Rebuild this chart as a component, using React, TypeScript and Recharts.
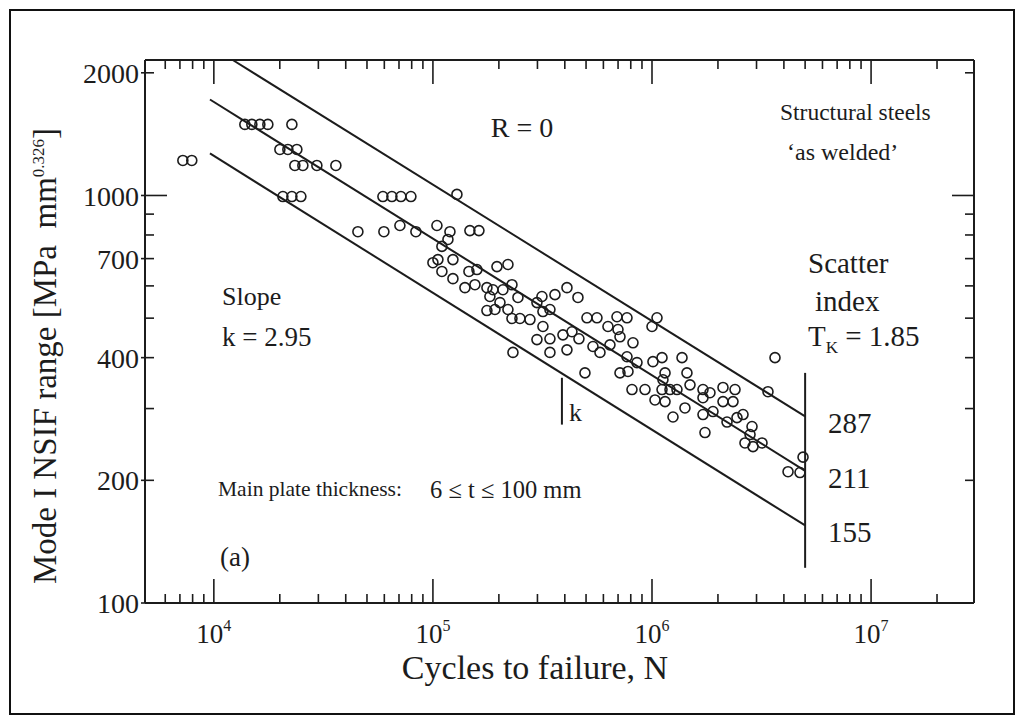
import React from "react";
import { ReferenceLine, Scatter, ScatterChart, XAxis, YAxis } from "recharts";

// test results: cycles to failure N and NSIF range
const cycles = [
  7220, 7930, 13850, 14910, 16220, 17640, 22710, 20020, 21770, 23930,
  23430, 25490, 29530, 36060, 20660, 22710, 24960, 59110, 64970, 71430,
  79340, 128700, 45450, 59730, 83610, 70680, 104300, 100000, 119600, 147500,
  162200, 117100, 109900, 105400, 123400, 109900, 123400, 140000, 146000, 158800,
  196000, 220000, 155500, 176400, 187900, 182000, 208700, 229500, 202300, 244400,
  176400, 191900, 220000, 229500, 249600, 277300, 298400, 314500, 317800, 342100,
  317800, 360600, 409100, 459200, 298400, 342100, 392200, 431100, 464000, 342100,
  409100, 231900, 504800, 560800, 629500, 692100, 768900, 699400, 537700, 578800,
  642900, 714300, 818800, 768900, 854000, 714300, 777000, 494300, 810200, 929000,
  1054000, 1000000, 1010000, 1111000, 1147000, 1111000, 1208000, 1300000, 1122000, 1032000,
  1147000, 1371000, 1444000, 1491000, 1247000, 1414000, 1709000, 1709000, 1839000, 1709000,
  1898000, 2109000, 2109000, 2393000, 2343000, 1745000, 2200000, 2443000, 2603000, 2861000,
  2802000, 2657000, 2891000, 3178000, 3643000, 3384000, 4891000, 4178000, 4738000,
];

const nsifRange = [
  1219, 1219, 1494, 1494, 1494, 1494, 1494, 1297, 1297, 1297,
  1185, 1185, 1185, 1185, 994, 994, 994, 994, 994, 994,
  994, 1006, 815, 815, 815, 844, 844, 684, 815, 820,
  820, 780, 750, 696, 696, 651, 625, 594, 651, 658,
  669, 677, 604, 594, 587, 565, 587, 604, 546, 562,
  522, 525, 525, 499, 499, 496, 546, 565, 519, 525,
  477, 571, 594, 562, 443, 445, 455, 463, 445, 412,
  418, 412, 501, 501, 477, 504, 501, 469, 426, 412,
  430, 450, 435, 402, 389, 367, 370, 367, 334, 334,
  501, 477, 391, 400, 367, 334, 334, 334, 353, 315,
  312, 400, 367, 343, 286, 301, 334, 319, 328, 290,
  295, 338, 312, 334, 312, 262, 278, 285, 290, 271,
  259, 247, 242, 247, 400, 330, 228, 210, 209,
];

// fitted curves (slope k = 2.95) and the scatter band bar at N = 5e6
const upperBand = [
  { n: 12200, s: 2150 },
  { n: 5e6, s: 287 },
];
const meanCurve = [
  { n: 9600, s: 1720 },
  { n: 5e6, s: 211 },
];
const lowerBand = [
  { n: 9600, s: 1268 },
  { n: 5e6, s: 155 },
];
const scatterBar = [
  { n: 5e6, s: 367 },
  { n: 5e6, s: 122 },
];
const slopeMark = [
  { n: 388000, s: 357 },
  { n: 388000, s: 274 },
];
const bandValues = ["287", "211", "155"];

const xTicks = [
  6e3, 7e3, 8e3, 9e3, 1e4, 2e4, 3e4, 4e4, 5e4, 6e4, 7e4, 8e4, 9e4, 1e5, 2e5,
  3e5, 4e5, 5e5, 6e5, 7e5, 8e5, 9e5, 1e6, 2e6, 3e6, 4e6, 5e6, 6e6, 7e6, 8e6,
  9e6, 1e7, 2e7,
];
const yTicks = [100, 200, 300, 400, 500, 600, 700, 800, 900, 1000, 2000];
const yLabelled = [100, 200, 400, 700, 1000, 2000];

const X_DOMAIN: [number, number] = [4850, 2.95e7];
const Y_DOMAIN: [number, number] = [100, 2150];

const FONT = '"Liberation Serif", "Times New Roman", serif';
const INK = "#1c1c1c";

const W = 1002;
const H = 702;
const MARGIN = { top: 48, right: 38, bottom: 60, left: 64 };
const X_AXIS_H = 50;
const Y_AXIS_W = 70;
// inner plot box, used to mirror the ticks onto the top and right frame
const PLOT_W = W - MARGIN.left - MARGIN.right - Y_AXIS_W - 1;
const PLOT_H = H - MARGIN.top - MARGIN.bottom - X_AXIS_H - 1;
// tick text sits tickSize + tickMargin away from the axis line
const OFF = 8;

const points = cycles.map((n, i) => ({ n, s: nsifRange[i] }));

function isDecade(v: number) {
  const l = Math.log10(v);
  return Math.abs(l - Math.round(l)) < 1e-6;
}

function BottomTick({ x, y, payload }: any) {
  const v = payload.value;
  const len = isDecade(v) ? 24 : 9;
  const ay = y - OFF;
  const top = ay - PLOT_H;
  return (
    <g>
      <line x1={x} y1={ay} x2={x} y2={ay - len} stroke={INK} strokeWidth={1.6} />
      <line x1={x} y1={top} x2={x} y2={top + len} stroke={INK} strokeWidth={1.6} />
      {isDecade(v) && (
        <text x={x} y={ay + 40} textAnchor="middle" fontFamily={FONT} fontSize={27} fill={INK}>
          10
          <tspan dy={-12} fontSize={16}>
            {Math.round(Math.log10(v))}
          </tspan>
        </text>
      )}
    </g>
  );
}

function LeftTick({ x, y, payload }: any) {
  const v = payload.value;
  const len = v === 100 || v === 1000 ? 22 : 9;
  const labelled = yLabelled.includes(v);
  const ax = x + OFF;
  const right = ax + PLOT_W;
  return (
    <g>
      <line x1={ax - (labelled ? 4 : 0)} y1={y} x2={ax + len} y2={y} stroke={INK} strokeWidth={1.6} />
      <line x1={right} y1={y} x2={right - len} y2={y} stroke={INK} strokeWidth={1.6} />
      {labelled && (
        <text x={ax - 6} y={y} dy="0.36em" textAnchor="end" fontFamily={FONT} fontSize={28} fill={INK}>
          {v}
        </text>
      )}
    </g>
  );
}

function Ring({ cx, cy }: any) {
  return <circle cx={cx} cy={cy} r={5} fill="none" stroke={INK} strokeWidth={1.6} />;
}

function Note({
  x,
  y,
  size = 26,
  center = false,
  children,
}: {
  x: number;
  y: number;
  size?: number;
  center?: boolean;
  children: React.ReactNode;
}) {
  return (
    <div
      style={{
        position: "absolute",
        left: x,
        top: y,
        fontSize: size,
        lineHeight: 1,
        whiteSpace: "pre",
        transform: center ? "translate(-50%, -50%)" : "translateY(-50%)",
      }}
    >
      {children}
    </div>
  );
}

const lineStyle = { stroke: INK, strokeWidth: 2 };

const axisCommon = {
  type: "number" as const,
  scale: "log" as const,
  allowDataOverflow: true,
  interval: 0 as const,
  tickSize: 6,
  tickMargin: 2,
  tickLine: false,
  axisLine: { stroke: INK, strokeWidth: 2 },
};

export default function App() {
  return (
    <div
      style={{
        position: "relative",
        width: W,
        height: H,
        margin: 1,
        border: "2px solid #111",
        fontFamily: FONT,
        color: INK,
        background: "#fff",
      }}
    >
      <ScatterChart width={W} height={H} margin={MARGIN}>
        <XAxis
          {...axisCommon}
          dataKey="n"
          domain={X_DOMAIN}
          ticks={xTicks}
          tick={(p: any) => <BottomTick {...p} />}
          height={X_AXIS_H}
        />
        <XAxis {...axisCommon} xAxisId="top" orientation="top" domain={X_DOMAIN} tick={false} height={1} />
        <YAxis
          {...axisCommon}
          dataKey="s"
          domain={Y_DOMAIN}
          ticks={yTicks}
          tick={(p: any) => <LeftTick {...p} />}
          width={Y_AXIS_W}
        />
        <YAxis {...axisCommon} yAxisId="right" orientation="right" domain={Y_DOMAIN} tick={false} width={1} />
        <ReferenceLine segment={upperBand.map((p) => ({ x: p.n, y: p.s }))} {...lineStyle} ifOverflow="visible" />
        <ReferenceLine segment={meanCurve.map((p) => ({ x: p.n, y: p.s }))} {...lineStyle} ifOverflow="visible" />
        <ReferenceLine segment={lowerBand.map((p) => ({ x: p.n, y: p.s }))} {...lineStyle} ifOverflow="visible" />
        <ReferenceLine segment={scatterBar.map((p) => ({ x: p.n, y: p.s }))} {...lineStyle} ifOverflow="visible" />
        <ReferenceLine segment={slopeMark.map((p) => ({ x: p.n, y: p.s }))} {...lineStyle} ifOverflow="visible" />
        <Scatter data={points} shape={(p: any) => <Ring {...p} />} isAnimationActive={false} />
      </ScatterChart>

      <Note x={511} y={117} size={28} center>
        R = 0
      </Note>
      <Note x={769} y={102} size={23.5}>
        Structural steels
      </Note>
      <Note x={776} y={141} size={24}>
        {"\u2018as welded\u2019"}
      </Note>
      <Note x={211} y={286}>
        Slope
      </Note>
      <Note x={211} y={326} size={27}>
        k = 2.95
      </Note>
      <Note x={797} y={252} size={29}>
        Scatter
      </Note>
      <Note x={804} y={290} size={29}>
        index
      </Note>
      <Note x={797} y={328} size={29}>
        <span>
          T<sub style={{ fontSize: 17 }}>K</sub> = 1.85
        </span>
      </Note>
      <Note x={207} y={479} size={21.5}>
        {"Main plate thickness:"}
      </Note>
      <Note x={419} y={479} size={24.5}>
        {"6 \u2264 t \u2264 100 mm"}
      </Note>
      <Note x={209} y={546} size={27}>
        (a)
      </Note>
      <Note x={558} y={402}>
        k
      </Note>
      <Note x={817} y={412} size={29}>
        {bandValues[0]}
      </Note>
      <Note x={817} y={467} size={29}>
        {bandValues[1]}
      </Note>
      <Note x={817} y={521} size={29}>
        {bandValues[2]}
      </Note>
      <Note x={524} y={657} size={34} center>
        Cycles to failure, N
      </Note>
      <div
        style={{
          position: "absolute",
          left: 34,
          top: 345,
          fontSize: 33,
          lineHeight: 1,
          whiteSpace: "pre",
          transform: "translate(-50%, -50%) rotate(-90deg)",
        }}
      >
        {"Mode I NSIF range [MPa  mm"}
        <sup style={{ fontSize: 17 }}>0.326</sup>]
      </div>
    </div>
  );
}
